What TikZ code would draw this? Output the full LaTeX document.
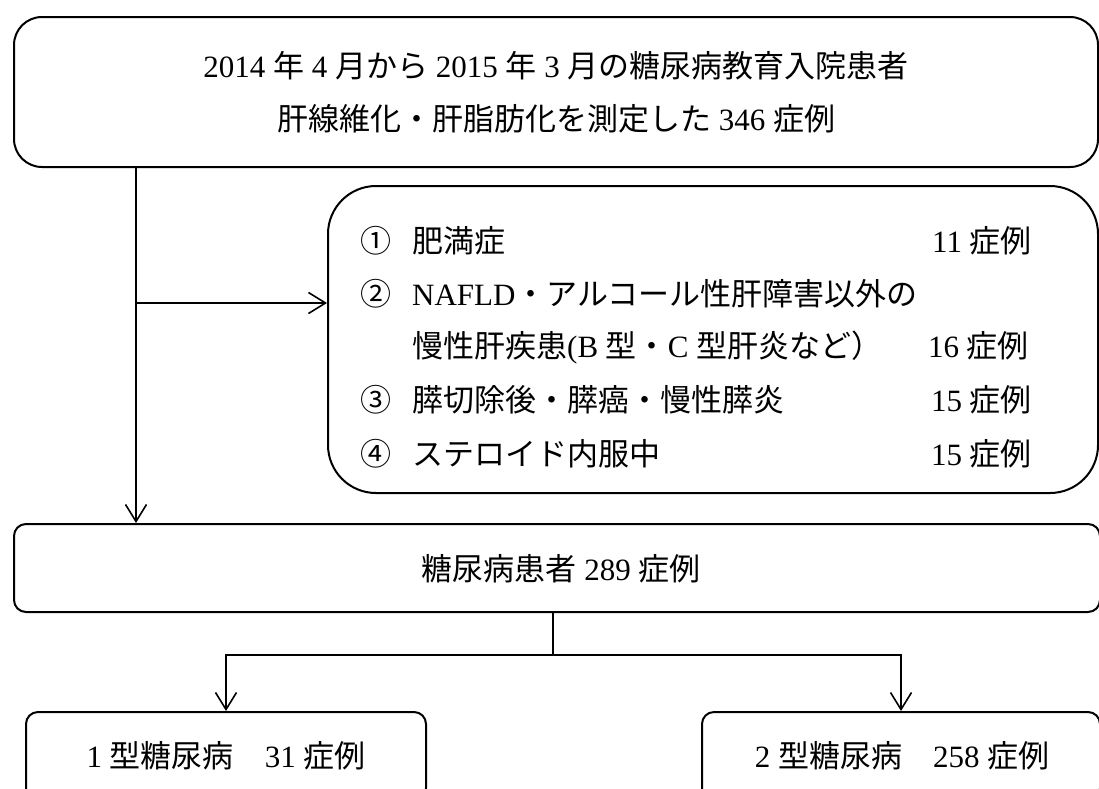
\documentclass[tikz,border=0pt]{standalone}
\usepackage{fontspec}
\setmainfont{Liberation Serif}
\newfontfamily\jpfont{Noto Sans CJK JP}
\newcommand{\jx}[1]{{\jpfont #1}}
\usetikzlibrary{arrows.meta}
\begin{document}
\begin{tikzpicture}[x=1pt,y=-1pt,
  boxbase/.style={draw, line width=2pt, inner sep=0pt},
  txt/.style={inner sep=0pt, font=\fontsize{31}{37}\selectfont},
  conn/.style={line width=1.6pt},
  arr/.style={conn, -{Straight Barb[length=17pt,width=21pt,line width=1.6pt]}}]
\useasboundingbox (0,0) rectangle (1099,788);
\clip (0,0) rectangle (1099,788);
% boxes
\node[boxbase, rounded corners=28pt, minimum width=1084pt, minimum height=150pt] (top) at (556,92) {};
\node[boxbase, rounded corners=48pt, minimum width=770pt, minimum height=307pt] (excl) at (713,339.5) {};
\node[boxbase, rounded corners=12pt, minimum width=1086pt, minimum height=88pt] (mid) at (557,568) {};
\node[boxbase, rounded corners=12pt, minimum width=400pt, minimum height=88pt] (t1) at (226,756) {};
\node[boxbase, rounded corners=12pt, minimum width=398pt, minimum height=88pt] (t2) at (901,756) {};
% texts
\node[txt, anchor=base] (top1) at (556,77) {2014 \jx{年} 4 \jx{月から} 2015 \jx{年} 3 \jx{月の糖尿病教育入院患者}};
\node[txt, anchor=base] (top2) at (556,130) {\jx{肝線維化・肝脂肪化を測定した} 346 \jx{症例}};
\node[txt, anchor=base west] (n1) at (360,252) {\jx{①}};
\node[txt, anchor=base west] (e1) at (412,252) {\jx{肥満症}};
\node[txt, anchor=base east] (c1) at (1032,252) {11 \jx{症例}};
\node[txt, anchor=base west] (n2) at (360,305) {\jx{②}};
\node[txt, anchor=base west] (e2) at (412,305) {NAFLD\jx{・アルコール性肝障害以外の}};
\node[txt, anchor=base west] (e3) at (412,357) {\jx{慢性肝疾患}(B \jx{型・}C \jx{型肝炎など）}};
\node[txt, anchor=base east] (c3) at (1029,357) {16 \jx{症例}};
\node[txt, anchor=base west] (n3) at (360,411) {\jx{③}};
\node[txt, anchor=base west] (e4) at (412,411) {\jx{膵切除後・膵癌・慢性膵炎}};
\node[txt, anchor=base east] (c4) at (1032,411) {15 \jx{症例}};
\node[txt, anchor=base west] (n4) at (360,465) {\jx{④}};
\node[txt, anchor=base west] (e5) at (412,465) {\jx{ステロイド内服中}};
\node[txt, anchor=base east] (c5) at (1032,465) {15 \jx{症例}};
\node[txt, anchor=base] (midt) at (561,580) {\jx{糖尿病患者} 289 \jx{症例}};
\node[txt, anchor=base] (t1t) at (226,767) {1 \jx{型糖尿病　}31 \jx{症例}};
\node[txt, anchor=base] (t2t) at (902,767) {2 \jx{型糖尿病　}258 \jx{症例}};
% connectors
\coordinate (split) at (136,303);
\coordinate (branch) at (553,655);
\draw[conn] (top.south -| split) -- (split);
\draw[arr] (split) -- (split -| excl.west);
\draw[arr] (split) -- (split |- mid.north);
\draw[conn] (mid.south -| branch) -- (branch);
\draw[arr] (branch) -| (t1.north);
\draw[arr] (branch) -| (t2.north);
\end{tikzpicture}
\end{document}
